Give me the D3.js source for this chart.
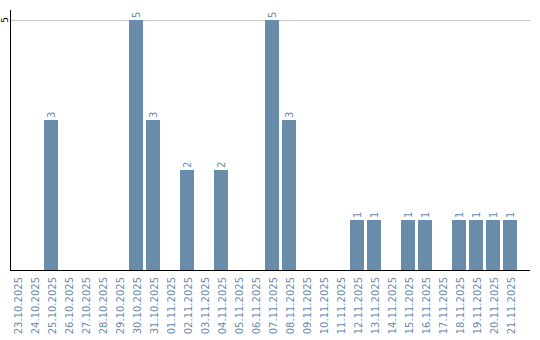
<!DOCTYPE html>
<html>
<head>
<meta charset="utf-8">
<script src="https://cdn.jsdelivr.net/npm/d3@7"></script>
<style>
body { margin: 0; background: #fff; }
text { font-family: "DejaVu Sans", sans-serif; }
</style>
</head>
<body>
<div id="chart"></div>
<script>
// data
var dates = ["23.10.2025","24.10.2025","25.10.2025","26.10.2025","27.10.2025","28.10.2025",
  "29.10.2025","30.10.2025","31.10.2025","01.11.2025","02.11.2025","03.11.2025","04.11.2025",
  "05.11.2025","06.11.2025","07.11.2025","08.11.2025","09.11.2025","10.11.2025","11.11.2025",
  "12.11.2025","13.11.2025","14.11.2025","15.11.2025","16.11.2025","17.11.2025","18.11.2025",
  "19.11.2025","20.11.2025","21.11.2025"];
var counts = [0,0,3,0,0,0,0,5,3,0,2,0,2,0,0,5,3,0,0,0,1,1,0,1,1,0,1,1,1,1];
var yTicks = [5];

var width = 540, height = 340;
var barColor = "#6a8cab";

var svg = d3.select("#chart")
  .append("svg")
  .attr("width", width)
  .attr("height", height);

var x = d3.scaleBand()
  .domain(dates)
  .range([10, 517])
  .paddingInner(3 / 17)
  .paddingOuter(0);

var y = d3.scaleLinear()
  .domain([0, 5])
  .range([270, 20]);

// gridline
svg.append("g")
  .selectAll("line")
  .data(yTicks)
  .enter()
  .append("line")
  .attr("x1", 10)
  .attr("x2", 530)
  .attr("y1", function (d) { return y(d) + 0.5; })
  .attr("y2", function (d) { return y(d) + 0.5; })
  .attr("stroke", "#c8c8c8")
  .attr("stroke-width", 1);

var data = dates.map(function (d, i) { return {date: d, value: counts[i]}; });

// bars
svg.append("g")
  .selectAll("rect")
  .data(data.filter(function (d) { return d.value > 0; }))
  .enter()
  .append("rect")
  .attr("x", function (d) { return x(d.date); })
  .attr("y", function (d) { return y(d.value); })
  .attr("width", x.bandwidth())
  .attr("height", function (d) { return y(0) - y(d.value); })
  .attr("fill", barColor);

// value labels
svg.append("g")
  .selectAll("text")
  .data(data.filter(function (d) { return d.value > 0; }))
  .enter()
  .append("text")
  .attr("transform", function (d) {
    return "translate(" + (x(d.date) + x.bandwidth() / 2 + 3.5) + "," + (y(d.value) - 2) + ") rotate(-90)";
  })
  .attr("font-size", "10px")
  .attr("fill", barColor)
  .text(function (d) { return d.value; });

// x labels
svg.append("g")
  .selectAll("text")
  .data(dates)
  .enter()
  .append("text")
  .attr("transform", function (d) {
    return "translate(" + (x(d) + x.bandwidth() / 2 + 4.5) + ",277) rotate(-90)";
  })
  .attr("text-anchor", "end")
  .attr("font-size", "10px")
  .attr("fill", barColor)
  .text(function (d) { return d; });

// y tick labels
svg.append("g")
  .selectAll("text")
  .data(yTicks)
  .enter()
  .append("text")
  .attr("transform", function (d) { return "translate(8," + y(d) + ") rotate(-90)"; })
  .attr("text-anchor", "middle")
  .attr("font-size", "9px")
  .attr("fill", "#000")
  .text(function (d) { return d; });

// axes lines
svg.append("line")
  .attr("x1", 10.5).attr("x2", 10.5)
  .attr("y1", 10).attr("y2", 270)
  .attr("stroke", "#000");
svg.append("line")
  .attr("x1", 10).attr("x2", 530)
  .attr("y1", 270.5).attr("y2", 270.5)
  .attr("stroke", "#000");
</script>
</body>
</html>
